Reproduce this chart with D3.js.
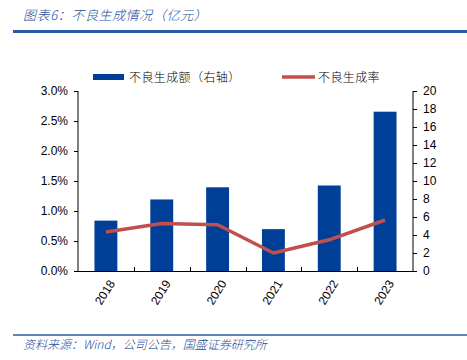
<!DOCTYPE html>
<html>
<head>
<meta charset="utf-8">
<script src="https://cdn.jsdelivr.net/npm/d3@7"></script>
<style>
  html, body { margin: 0; padding: 0; background: #fff; }
  svg { display: block; }
  .cn { font-family: "Noto Sans CJK SC", sans-serif; }
  .num { font-family: "Liberation Sans", Arial, sans-serif; }
</style>
</head>
<body>
<div id="chart"></div>
<script>
// data
const years = ['2018', '2019', '2020', '2021', '2022', '2023']
const amount = [5.6, 7.95, 9.3, 4.65, 9.5, 17.7]       // 亿元, right axis
const rate = [0.0065, 0.0079, 0.0077, 0.0030, 0.0052, 0.0085]
const leftTicks = [0, 0.005, 0.01, 0.015, 0.02, 0.025, 0.03]
const rightTicks = [0, 2, 4, 6, 8, 10, 12, 14, 16, 18, 20]

const W = 467, H = 360
const m = { left: 78, right: 54, top: 91, bottom: 89 }
const blue = '#003f98'
const red = '#c0504d'
const navy = '#1f4e9c'

const svg = d3.select('#chart').append('svg')
  .attr('width', W).attr('height', H)

// title + rules
svg.append('text')
  .attr('class', 'cn')
  .attr('x', 23).attr('y', 20)
  .attr('font-size', 13)
  .attr('font-style', 'italic')
  .attr('font-weight', 300)
  .attr('letter-spacing', 0.6)
  .attr('fill', navy)
  .text('图表6：不良生成情况（亿元）')
svg.append('line')
  .attr('x1', 13).attr('x2', W).attr('y1', 31.5).attr('y2', 31.5)
  .attr('stroke', '#2a5ba8').attr('stroke-width', 3)
svg.append('line')
  .attr('x1', 13).attr('x2', W).attr('y1', 335).attr('y2', 335)
  .attr('stroke', '#2a5ba8').attr('stroke-width', 1.5)
svg.append('text')
  .attr('class', 'cn')
  .attr('x', 23).attr('y', 349)
  .attr('font-size', 12)
  .attr('font-style', 'italic')
  .attr('font-weight', 300)
  .attr('fill', navy)
  .text('资料来源：Wind，公司公告，国盛证券研究所')

const x = d3.scaleBand()
  .domain(years)
  .range([m.left, W - m.right])
  .paddingInner(0.59).paddingOuter(0.295)
const xPos = d3.scalePoint().domain(years).range([m.left, W - m.right]).padding(0.5)
const yL = d3.scaleLinear().domain([0, 0.03]).range([H - m.bottom, m.top])
const yR = d3.scaleLinear().domain([0, 20]).range([H - m.bottom, m.top])

// bars
svg.append('g').selectAll('rect')
  .data(years)
  .join('rect')
  .attr('x', d => x(d))
  .attr('width', x.bandwidth())
  .attr('y', (d, i) => yR(amount[i]))
  .attr('height', (d, i) => yR(0) - yR(amount[i]))
  .attr('fill', blue)

// line
const line = d3.line()
  .x((d, i) => xPos(years[i]))
  .y(d => yL(d))
svg.append('path')
  .datum(rate)
  .attr('d', line)
  .attr('fill', 'none')
  .attr('stroke', red)
  .attr('stroke-width', 3.5)
  .attr('stroke-linejoin', 'round')

// left axis
const axL = svg.append('g')
  .attr('class', 'num')
  .attr('transform', `translate(${m.left},0)`)
  .call(d3.axisLeft(yL).tickValues(leftTicks).tickFormat(d3.format('.1%')).tickSize(4).tickPadding(6))
// right axis
const axR = svg.append('g')
  .attr('class', 'num')
  .attr('transform', `translate(${W - m.right},0)`)
  .call(d3.axisRight(yR).tickValues(rightTicks).tickSize(4).tickPadding(6))
;[axL, axR].forEach(g => {
  g.select('.domain').attr('stroke', '#000').attr('d', `M0,${m.top}V${H - m.bottom}`)
  g.selectAll('.tick line').attr('stroke', '#000')
  g.selectAll('text').attr('font-size', 12).attr('fill', '#000')
    .attr('font-family', '"Liberation Sans", Arial, sans-serif')
})

// bottom axis: baseline, ticks between categories, rotated labels
const base = H - m.bottom
const step = (W - m.right - m.left) / years.length
const bx = svg.append('g')
bx.append('line')
  .attr('x1', m.left).attr('x2', W - m.right)
  .attr('y1', base + 0.5).attr('y2', base + 0.5)
  .attr('stroke', '#000')
bx.selectAll('line.tk')
  .data(d3.range(1, years.length))
  .join('line')
  .attr('class', 'tk')
  .attr('x1', i => Math.round(m.left + i * step) + 0.5)
  .attr('x2', i => Math.round(m.left + i * step) + 0.5)
  .attr('y1', base).attr('y2', base - 4)
  .attr('stroke', '#000')
bx.selectAll('text')
  .data(years)
  .join('text')
  .attr('class', 'num')
  .attr('font-size', 12)
  .attr('text-anchor', 'end')
  .attr('transform', d => `translate(${xPos(d) + 6},${base + 10}) rotate(-58)`)
  .attr('dy', '0.35em')
  .text(d => d)

// legend
const lg = svg.append('g').attr('class', 'cn')
lg.append('rect')
  .attr('x', 93).attr('y', 74).attr('width', 31).attr('height', 6)
  .attr('fill', blue)
lg.append('text')
  .attr('x', 129).attr('y', 81.5)
  .attr('font-size', 12)
  .attr('font-weight', 300)
  .attr('letter-spacing', 0.4)
  .text('不良生成额（右轴）')
lg.append('line')
  .attr('x1', 282).attr('x2', 315).attr('y1', 77).attr('y2', 77)
  .attr('stroke', red).attr('stroke-width', 3.5)
lg.append('text')
  .attr('x', 318).attr('y', 81.5)
  .attr('font-size', 12)
  .attr('font-weight', 300)
  .attr('letter-spacing', 0.4)
  .text('不良生成率')
</script>
</body>
</html>
